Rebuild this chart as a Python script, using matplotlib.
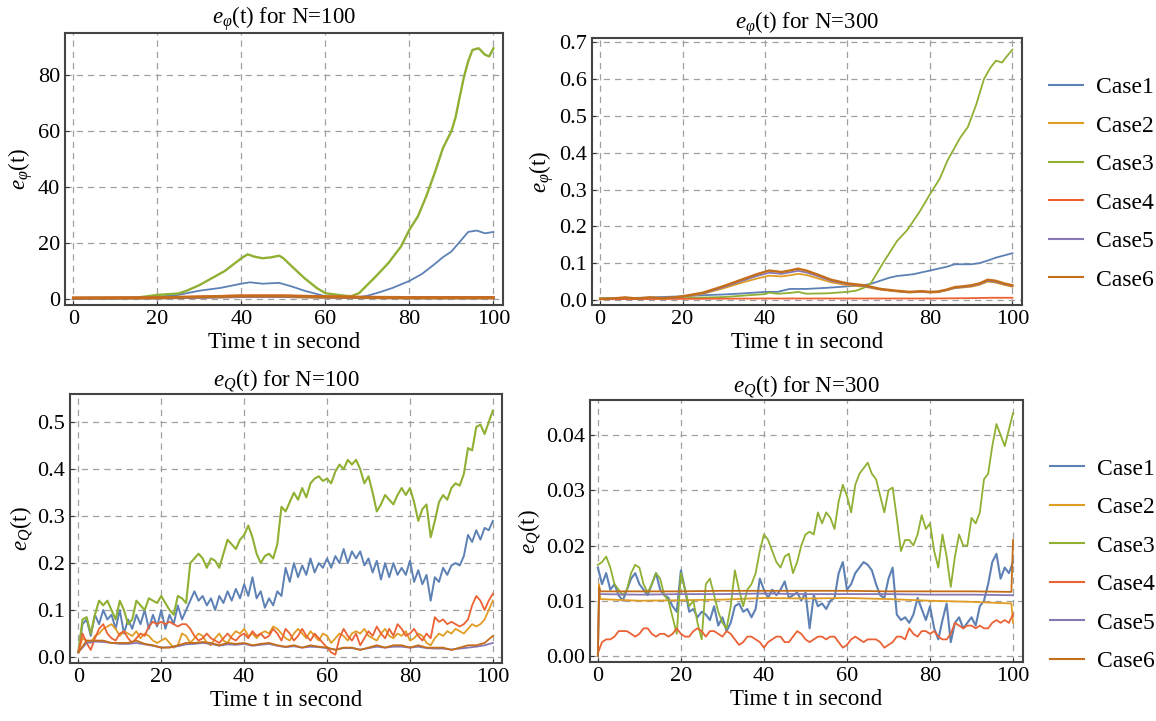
import numpy as np
import matplotlib
matplotlib.use("Agg")
import matplotlib.pyplot as plt

plt.rcParams['font.family'] = ['Liberation Serif', 'DejaVu Serif']
plt.rcParams['mathtext.fontset'] = 'custom'
plt.rcParams['mathtext.rm'] = 'Liberation Serif'
plt.rcParams['mathtext.it'] = 'Liberation Serif:italic'

cases = ['Case1', 'Case2', 'Case3', 'Case4', 'Case5', 'Case6']
colors = ['#5E81B5', '#E19C24', '#8FB032', '#EB6235', '#8778B3', '#C56E1A']

# ---- e_phi, N=100 ----
p100_t1 = [0, 10, 15, 20, 25, 30, 35, 40, 42, 45, 49, 52, 55, 58, 60, 65, 68, 70, 73, 76,
           80, 83, 86, 88, 90, 92, 94, 96, 98, 100]
p100_c1 = [0.2, 0.2, 0.4, 0.8, 1.5, 3, 4, 5.5, 6, 5.5, 5.8, 4.5, 3, 1.8, 1, 0.5, 0.7, 1.2, 2.5, 4,
           6.5, 9, 12.5, 15, 17, 20.5, 24, 24.5, 23.5, 24]
p100_t3 = [0, 10, 15, 20, 25, 27, 30, 33, 36, 38, 40, 41.5, 43, 45, 47, 49, 50, 52, 55, 58,
           60, 63, 66, 68, 70, 72, 75, 78, 80, 82, 84, 86, 88, 90, 91, 92, 93, 94, 95, 96.5,
           98, 99, 100]
p100_c3 = [0.2, 0.3, 0.5, 1.5, 2.0, 3.0, 5, 7.5, 10, 12.3, 14.6, 16, 15.2, 14.6, 14.9, 15.5, 14.6, 11.7, 7.5, 3.9,
           2.1, 1.5, 1, 2.1, 5.1, 8.1, 12.9, 18.8, 24.8, 29.5, 36.7, 45, 54, 60, 65, 72.4, 79.5, 85, 89, 89.6,
           87.3, 86.7, 89.6]
p100_tlow = [0, 20, 30, 40, 50, 60, 70, 80, 90, 100]
p100_c2 = [0.3, 0.4, 0.6, 0.9, 0.9, 0.6, 0.5, 0.4, 0.4, 0.4]
p100_c4 = [0.4, 0.5, 0.8, 1.2, 1.2, 0.9, 0.7, 0.6, 0.6, 0.6]
p100_c5 = [0.3, 0.4, 0.6, 0.9, 0.9, 0.7, 0.5, 0.4, 0.4, 0.4]
p100_c6 = [0.4, 0.5, 0.8, 1.1, 1.1, 0.8, 0.6, 0.5, 0.5, 0.5]

# ---- e_phi, N=300 ----
p300_t1 = [0, 10, 20, 25, 30, 35, 40, 43, 46, 50, 55, 60, 64, 66, 70, 72, 76, 80, 84, 86,
           90, 92, 94, 96, 100]
p300_c1 = [0.004, 0.006, 0.01, 0.013, 0.015, 0.018, 0.022, 0.022, 0.03, 0.03,
           0.033, 0.037, 0.04, 0.045, 0.06, 0.065, 0.07, 0.08, 0.09, 0.097,
           0.097, 0.1, 0.107, 0.115, 0.127]
p300_t3 = [0, 10, 20, 30, 35, 40, 41, 43, 46, 48, 50, 55, 60, 62, 64, 65.7, 68.6, 72, 74.5, 77.5,
           80, 82.4, 84.3, 87.3, 89.2, 91.2, 93.1, 94.6, 96, 97.5, 98.5, 100]
p300_c3 = [0.004, 0.005, 0.005, 0.008, 0.012, 0.016, 0.02, 0.017, 0.019, 0.022,
           0.017, 0.018, 0.022, 0.025, 0.033, 0.046, 0.10, 0.16, 0.19, 0.24,
           0.287, 0.33, 0.38, 0.44, 0.47, 0.53, 0.60, 0.63, 0.65, 0.645, 0.66, 0.68]
p300_tc = [0, 3, 6, 9, 12, 15, 18, 20, 25, 30, 35, 38, 41, 44, 46, 48, 50, 53, 56, 60,
           64, 68, 72, 75, 78, 80, 82, 84, 86, 88, 90, 92, 94, 96, 98, 100]
p300_c6 = [0.003, 0.004, 0.007, 0.004, 0.007, 0.005, 0.007, 0.01, 0.02, 0.038,
           0.058, 0.07, 0.08, 0.076, 0.08, 0.085, 0.08, 0.068, 0.055, 0.045,
           0.04, 0.03, 0.025, 0.022, 0.024, 0.022, 0.023, 0.028, 0.035, 0.037,
           0.04, 0.045, 0.055, 0.052, 0.045, 0.04]
p300_c5 = [0.003, 0.004, 0.006, 0.004, 0.006, 0.005, 0.006, 0.009, 0.018, 0.035,
           0.054, 0.065, 0.074, 0.071, 0.075, 0.079, 0.075, 0.064, 0.052, 0.043,
           0.038, 0.029, 0.024, 0.021, 0.023, 0.021, 0.022, 0.027, 0.033, 0.035,
           0.038, 0.043, 0.052, 0.049, 0.043, 0.038]
p300_c2 = [0.003, 0.004, 0.006, 0.004, 0.006, 0.005, 0.006, 0.008, 0.017, 0.032,
           0.049, 0.058, 0.066, 0.064, 0.067, 0.071, 0.068, 0.058, 0.048, 0.04,
           0.036, 0.028, 0.023, 0.02, 0.022, 0.02, 0.021, 0.026, 0.032, 0.034,
           0.036, 0.041, 0.05, 0.047, 0.041, 0.036]
p300_t4 = [0, 20, 40, 60, 80, 90, 95, 100]
p300_c4 = [0.002, 0.003, 0.004, 0.004, 0.004, 0.005, 0.006, 0.006]

# ---- e_Q, N=100 (one value per second) ----
t_sec = np.arange(0, 101)
q100_c3 = [0.01, 0.08, 0.085, 0.05, 0.09, 0.12, 0.11, 0.12, 0.10, 0.08,
           0.12, 0.10, 0.07, 0.08, 0.12, 0.11, 0.10, 0.125, 0.12, 0.115,
           0.13, 0.115, 0.10, 0.09, 0.13, 0.125, 0.115, 0.20, 0.21, 0.22,
           0.21, 0.19, 0.21, 0.205, 0.19, 0.22, 0.25, 0.24, 0.23, 0.25,
           0.26, 0.28, 0.255, 0.22, 0.20, 0.215, 0.22, 0.21, 0.24, 0.32,
           0.31, 0.33, 0.35, 0.335, 0.36, 0.34, 0.37, 0.38, 0.385, 0.375,
           0.38, 0.37, 0.395, 0.41, 0.40, 0.42, 0.41, 0.42, 0.40, 0.37,
           0.385, 0.35, 0.31, 0.325, 0.345, 0.335, 0.325, 0.345, 0.36, 0.345,
           0.36, 0.33, 0.29, 0.315, 0.325, 0.255, 0.29, 0.33, 0.345, 0.335,
           0.36, 0.37, 0.365, 0.39, 0.445, 0.44, 0.49, 0.495, 0.475, 0.50,
           0.525]
q100_c1 = [0.01, 0.07, 0.08, 0.045, 0.09, 0.07, 0.10, 0.08, 0.09, 0.06,
           0.10, 0.05, 0.08, 0.06, 0.09, 0.07, 0.10, 0.06, 0.09, 0.065,
           0.10, 0.06, 0.09, 0.07, 0.11, 0.08, 0.10, 0.12, 0.14, 0.12,
           0.13, 0.11, 0.125, 0.10, 0.13, 0.115, 0.14, 0.12, 0.145, 0.125,
           0.155, 0.13, 0.17, 0.125, 0.14, 0.105, 0.125, 0.11, 0.14, 0.13,
           0.19, 0.16, 0.20, 0.17, 0.195, 0.175, 0.21, 0.18, 0.20, 0.19,
           0.21, 0.19, 0.215, 0.20, 0.23, 0.20, 0.225, 0.21, 0.225, 0.195,
           0.21, 0.18, 0.205, 0.165, 0.20, 0.17, 0.20, 0.175, 0.19, 0.175,
           0.205, 0.16, 0.185, 0.155, 0.175, 0.12, 0.17, 0.16, 0.19, 0.175,
           0.195, 0.20, 0.195, 0.215, 0.26, 0.245, 0.27, 0.25, 0.275, 0.27,
           0.29]
q100_c4 = [0.01, 0.05, 0.03, 0.015, 0.04, 0.06, 0.07, 0.05, 0.04, 0.035,
           0.05, 0.055, 0.04, 0.03, 0.04, 0.05, 0.045, 0.065, 0.075, 0.07,
           0.075, 0.07, 0.075, 0.07, 0.065, 0.07, 0.07, 0.06, 0.045, 0.035,
           0.04, 0.05, 0.04, 0.035, 0.03, 0.04, 0.05, 0.04, 0.035, 0.045,
           0.05, 0.04, 0.055, 0.045, 0.05, 0.04, 0.045, 0.06, 0.05, 0.035,
           0.06, 0.05, 0.035, 0.045, 0.06, 0.045, 0.035, 0.05, 0.04, 0.03,
           0.02, 0.01, 0.005, 0.04, 0.06, 0.045, 0.035, 0.05, 0.025, 0.04,
           0.055, 0.045, 0.065, 0.05, 0.04, 0.06, 0.045, 0.07, 0.06, 0.045,
           0.05, 0.06, 0.045, 0.035, 0.05, 0.04, 0.085, 0.075, 0.08, 0.07,
           0.075, 0.07, 0.065, 0.07, 0.08, 0.11, 0.13, 0.12, 0.10, 0.12,
           0.135]
q100_c2 = [0.01, 0.04, 0.035, 0.03, 0.045, 0.05, 0.06, 0.065, 0.07, 0.06,
           0.045, 0.055, 0.05, 0.045, 0.055, 0.04, 0.05, 0.045, 0.035, 0.03,
           0.035, 0.04, 0.03, 0.02, 0.025, 0.05, 0.045, 0.03, 0.04, 0.05,
           0.045, 0.03, 0.025, 0.04, 0.05, 0.035, 0.03, 0.045, 0.055, 0.05,
           0.06, 0.045, 0.05, 0.04, 0.05, 0.055, 0.05, 0.065, 0.06, 0.05,
           0.04, 0.035, 0.05, 0.06, 0.05, 0.04, 0.055, 0.045, 0.035, 0.05,
           0.045, 0.03, 0.04, 0.05, 0.045, 0.035, 0.05, 0.055, 0.05, 0.06,
           0.045, 0.04, 0.035, 0.05, 0.06, 0.045, 0.04, 0.05, 0.045, 0.055,
           0.035, 0.04, 0.05, 0.045, 0.03, 0.025, 0.04, 0.05, 0.045, 0.055,
           0.05, 0.06, 0.055, 0.05, 0.06, 0.07, 0.065, 0.07, 0.08, 0.10,
           0.12]
t_2sec = np.arange(0, 101, 2)
q100_c6 = [0.01, 0.035, 0.035, 0.035, 0.03, 0.03, 0.03, 0.035, 0.028, 0.025,
           0.02, 0.02, 0.025, 0.03, 0.03, 0.032, 0.03, 0.025, 0.03, 0.028,
           0.03, 0.025, 0.028, 0.03, 0.025, 0.022, 0.025, 0.02, 0.025, 0.022,
           0.02, 0.015, 0.02, 0.02, 0.015, 0.02, 0.025, 0.02, 0.025, 0.025,
           0.02, 0.025, 0.02, 0.02, 0.02, 0.015, 0.02, 0.025, 0.025, 0.03,
           0.045]
q100_c5 = [0.01, 0.03, 0.033, 0.032, 0.03, 0.028, 0.028, 0.03, 0.027, 0.024,
           0.02, 0.021, 0.023, 0.027, 0.028, 0.03, 0.028, 0.024, 0.027, 0.026,
           0.028, 0.024, 0.026, 0.028, 0.024, 0.021, 0.023, 0.02, 0.022, 0.021,
           0.019, 0.016, 0.019, 0.019, 0.016, 0.019, 0.022, 0.02, 0.022, 0.022,
           0.02, 0.022, 0.019, 0.018, 0.018, 0.016, 0.018, 0.02, 0.022, 0.025,
           0.03]

# ---- e_Q, N=300 ----
q300_c3 = [0.0165, 0.017, 0.018, 0.016, 0.013, 0.012, 0.011, 0.012, 0.015, 0.0165,
           0.016, 0.013, 0.0115, 0.013, 0.015, 0.014, 0.011, 0.010, 0.007, 0.004,
           0.015, 0.012, 0.009, 0.010, 0.006, 0.003, 0.013, 0.014, 0.011, 0.008,
           0.006, 0.005, 0.009, 0.0155, 0.012, 0.009, 0.012, 0.013, 0.015, 0.019,
           0.022, 0.021, 0.019, 0.017, 0.016, 0.018, 0.0185, 0.015, 0.017, 0.020,
           0.022, 0.0225, 0.022, 0.026, 0.024, 0.026, 0.025, 0.023, 0.028, 0.031,
           0.029, 0.026, 0.031, 0.033, 0.034, 0.035, 0.033, 0.032, 0.029, 0.026,
           0.030, 0.0305, 0.025, 0.019, 0.021, 0.021, 0.020, 0.022, 0.0255, 0.023,
           0.024, 0.019, 0.016, 0.022, 0.018, 0.0125, 0.018, 0.022, 0.020, 0.020,
           0.025, 0.024, 0.026, 0.032, 0.033, 0.038, 0.042, 0.040, 0.038, 0.041,
           0.044]
q300_c1 = [0.016, 0.013, 0.015, 0.012, 0.013, 0.011, 0.010, 0.012, 0.014, 0.015,
           0.013, 0.012, 0.011, 0.013, 0.015, 0.012, 0.011, 0.0105, 0.009, 0.008,
           0.0155, 0.012, 0.008, 0.0085, 0.007, 0.008, 0.0075, 0.0065, 0.009, 0.0055,
           0.007, 0.0045, 0.006, 0.009, 0.0095, 0.008, 0.0085, 0.007, 0.0085, 0.014,
           0.012, 0.0105, 0.012, 0.011, 0.012, 0.0135, 0.0105, 0.011, 0.0115, 0.010,
           0.0115, 0.005, 0.011, 0.009, 0.0095, 0.0085, 0.010, 0.0105, 0.015, 0.017,
           0.012, 0.013, 0.015, 0.016, 0.017, 0.0165, 0.0155, 0.013, 0.011, 0.0105,
           0.014, 0.016, 0.0075, 0.0065, 0.007, 0.006, 0.0075, 0.0105, 0.0085, 0.0065,
           0.009, 0.005, 0.003, 0.0065, 0.0095, 0.0025, 0.006, 0.007, 0.005, 0.006,
           0.007, 0.0055, 0.009, 0.010, 0.013, 0.017, 0.0185, 0.014, 0.016, 0.015,
           0.017]
q300_c4 = [0.0005, 0.0025, 0.003, 0.003, 0.0035, 0.0045, 0.0045, 0.0045, 0.004, 0.0035,
           0.004, 0.005, 0.005, 0.004, 0.0035, 0.004, 0.004, 0.0035, 0.004, 0.005,
           0.004, 0.0035, 0.0035, 0.0045, 0.005, 0.0045, 0.0035, 0.0045, 0.0045, 0.004,
           0.0035, 0.0045, 0.004, 0.003, 0.002, 0.0025, 0.0035, 0.0035, 0.003, 0.0025,
           0.0015, 0.0025, 0.003, 0.0035, 0.0035, 0.0025, 0.0025, 0.0035, 0.0045, 0.004,
           0.003, 0.0025, 0.003, 0.0035, 0.0035, 0.003, 0.0035, 0.0035, 0.0025, 0.0015,
           0.002, 0.003, 0.0035, 0.003, 0.0025, 0.003, 0.003, 0.003, 0.0025, 0.0015,
           0.002, 0.0025, 0.0035, 0.0035, 0.003, 0.005, 0.004, 0.0035, 0.0045, 0.0045,
           0.004, 0.0045, 0.0035, 0.003, 0.003, 0.004, 0.006, 0.0055, 0.005, 0.0055,
           0.0055, 0.005, 0.0055, 0.005, 0.005, 0.006, 0.0065, 0.006, 0.0065, 0.006,
           0.0075]
q300_tflat = [0, 0.3, 0.6, 10, 20, 30, 40, 50, 60, 70, 80, 90, 99.6, 100]
q300_c2 = [0.0, 0.013, 0.0103, 0.0100, 0.0101, 0.0102, 0.0105, 0.0104, 0.0105, 0.0103,
           0.0100, 0.0098, 0.0095, 0.006]
q300_c5 = [0.0, 0.0112, 0.0112, 0.0111, 0.0112, 0.0112, 0.0113, 0.0112, 0.0112, 0.0112,
           0.0111, 0.0111, 0.0110, 0.0110]
q300_c6 = [0.0, 0.0125, 0.0117, 0.0117, 0.0117, 0.0118, 0.0118, 0.0118, 0.0118, 0.0117,
           0.0117, 0.0117, 0.0116, 0.021]


fig = plt.figure(figsize=(11.56, 7.21), dpi=100)
ax1 = fig.add_axes([0.0562, 0.577, 0.379, 0.377])
ax2 = fig.add_axes([0.512, 0.577, 0.372, 0.370])
ax3 = fig.add_axes([0.0606, 0.0804, 0.374, 0.373])
ax4 = fig.add_axes([0.510, 0.0818, 0.3746, 0.363])


def style(ax, title, ylabel, ylim, yticks, fmt):
    ax.set_xlim(-2, 102.3)
    ax.set_ylim(*ylim)
    ax.set_xticks([0, 20, 40, 60, 80, 100])
    ax.set_yticks(yticks)
    ax.set_yticklabels([fmt.format(v) for v in yticks])
    ax.grid(True, color='#a0a0a0', linestyle=(0, (5, 4)), linewidth=0.9)
    ax.set_axisbelow(True)
    ax.tick_params(direction='in', length=3, labelsize=16, colors='#333333',
                   labelcolor='black')
    for s in ax.spines.values():
        s.set_color('#444444')
        s.set_linewidth(1.5)
    ax.set_title(title, fontsize=16.5, pad=3)
    ax.set_xlabel('Time t in second', fontsize=16.5, labelpad=2)
    ax.set_ylabel(ylabel, fontsize=16.5, labelpad=2)


lw = 1.3
# top-left
ax1.plot(p100_t1, p100_c1, color=colors[0], lw=lw, label=cases[0])
ax1.plot(p100_tlow, p100_c2, color=colors[1], lw=2, label=cases[1])
ax1.plot(p100_t3, p100_c3, color=colors[2], lw=1.7, label=cases[2])
ax1.plot(p100_tlow, p100_c4, color=colors[3], lw=2, label=cases[3])
ax1.plot(p100_tlow, p100_c5, color=colors[4], lw=2, label=cases[4])
ax1.plot(p100_tlow, p100_c6, color=colors[5], lw=2, label=cases[5])
style(ax1, r'$e_{\varphi}$(t) for N=100', r'$e_{\varphi}$(t)', (-2.1, 95),
      [0, 20, 40, 60, 80], '{:.0f}')

# top-right
ax2.plot(p300_t1, p300_c1, color=colors[0], lw=lw, label=cases[0])
ax2.plot(p300_tc, p300_c2, color=colors[1], lw=lw, label=cases[1])
ax2.plot(p300_t3, p300_c3, color=colors[2], lw=lw, label=cases[2])
ax2.plot(p300_t4, p300_c4, color=colors[3], lw=lw, label=cases[3])
ax2.plot(p300_tc, p300_c5, color=colors[4], lw=lw, label=cases[4])
ax2.plot(p300_tc, p300_c6, color=colors[5], lw=lw + 0.4, label=cases[5])
style(ax2, r'$e_{\varphi}$(t) for N=300', r'$e_{\varphi}$(t)', (-0.0136, 0.711),
      [0.0, 0.1, 0.2, 0.3, 0.4, 0.5, 0.6, 0.7], '{:.1f}')

# bottom-left
ax3.plot(t_sec, q100_c1, color=colors[0], lw=lw + 0.1, label=cases[0])
ax3.plot(t_sec, q100_c2, color=colors[1], lw=lw, label=cases[1])
ax3.plot(t_sec, q100_c3, color=colors[2], lw=lw + 0.2, label=cases[2])
ax3.plot(t_sec, q100_c4, color=colors[3], lw=lw, label=cases[3])
ax3.plot(t_2sec, q100_c5, color=colors[4], lw=lw, label=cases[4])
ax3.plot(t_2sec, q100_c6, color=colors[5], lw=lw, label=cases[5])
style(ax3, r'$e_{Q}$(t) for N=100', r'$e_{Q}$(t)', (-0.0128, 0.56),
      [0.0, 0.1, 0.2, 0.3, 0.4, 0.5], '{:.1f}')

# bottom-right
ax4.plot(t_sec, q300_c1, color=colors[0], lw=lw + 0.2, label=cases[0])
ax4.plot(q300_tflat, q300_c2, color=colors[1], lw=lw, label=cases[1])
ax4.plot(t_sec, q300_c3, color=colors[2], lw=lw, label=cases[2])
ax4.plot(t_sec, q300_c4, color=colors[3], lw=lw, label=cases[3])
ax4.plot(q300_tflat, q300_c5, color=colors[4], lw=lw, label=cases[4])
ax4.plot(q300_tflat, q300_c6, color=colors[5], lw=lw, label=cases[5])
style(ax4, r'$e_{Q}$(t) for N=300', r'$e_{Q}$(t)', (-0.0011, 0.0463),
      [0.0, 0.01, 0.02, 0.03, 0.04], '{:.2f}')

for ax, yc in [(ax2, 0.455), (ax4, 0.37)]:
    leg = ax.legend(loc='center left', bbox_to_anchor=(1.035, yc), frameon=False,
                    fontsize=17, handlelength=1.45, handletextpad=0.55,
                    labelspacing=0.72, borderpad=0)
    for h in leg.get_lines():
        h.set_linewidth(1.5)

fig.savefig('out.png', dpi=100)
